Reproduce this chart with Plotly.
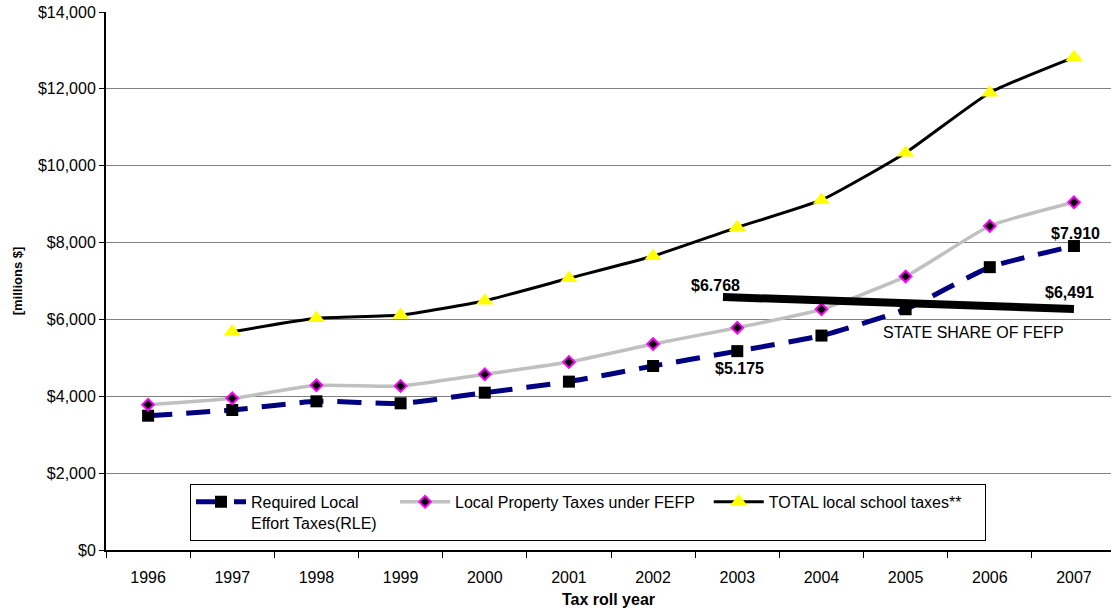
import plotly.graph_objects as go

# ---- data ----
years = [1996, 1997, 1998, 1999, 2000, 2001, 2002, 2003, 2004, 2005, 2006, 2007]
rle_values = [3495, 3643, 3869, 3817, 4094, 4381, 4788, 5175, 5580, 6265, 7360, 7910]
prop_values = [3782, 3947, 4285, 4268, 4572, 4892, 5360, 5785, 6263, 7120, 8431, 9048]
total_years = [1997, 1998, 1999, 2000, 2001, 2002, 2003, 2004, 2005, 2006, 2007]
total_values = [5681, 6029, 6115, 6488, 7070, 7650, 8397, 9108, 10339, 11900, 12820]
state_share_x = [2002.83, 2007.0]
state_share_y = [6584, 6271]
state_share_labels = ["$6.768", "$6,491"]
state_share_caption = "STATE SHARE OF FEFP"
caption_pos = (2005.81, 5647)
rle_label_years = [2003, 2007]
rle_label_texts = ["$5.175", "$7.910"]
y_ticks = [0, 2000, 4000, 6000, 8000, 10000, 12000, 14000]
y_tick_text = ["$0", "$2,000", "$4,000", "$6,000", "$8,000", "$10,000", "$12,000", "$14,000"]

FONT = "Liberation Sans, Arial, sans-serif"
NB = "\u00a0"

fig = go.Figure()

fig.add_trace(go.Scatter(
    x=years, y=rle_values, name="Required Local<br>Effort Taxes(RLE)" + NB * 3,
    mode="lines+markers",
    line=dict(color="#000080", width=5, dash="24px,14px", shape="spline", smoothing=0.5),
    marker=dict(symbol="square", size=12, color="black", line=dict(width=0)),
))
fig.add_trace(go.Scatter(
    x=years, y=prop_values, name="Local Property Taxes under FEFP" + NB * 2,
    mode="lines+markers",
    line=dict(color="#C0C0C0", width=3.5, shape="spline", smoothing=0.5),
    marker=dict(symbol="diamond", size=9, color="black", line=dict(width=2, color="#FF00FF")),
))
fig.add_trace(go.Scatter(
    x=total_years, y=total_values, name="TOTAL local school taxes**" + NB * 4,
    mode="lines+markers",
    line=dict(color="black", width=3, shape="spline", smoothing=0.5),
    marker=dict(symbol="triangle-up", size=15, color="#FFFF00", line=dict(width=0)),
))
fig.add_trace(go.Scatter(
    x=state_share_x, y=state_share_y, mode="lines", showlegend=False,
    line=dict(color="black", width=8),
))

annotations = []
shifts = [(-7, 11), (-4, 17)]
for xv, yv, t, (dx, dy) in zip(state_share_x, state_share_y, state_share_labels, shifts):
    annotations.append(dict(x=xv, y=yv, xref="x", yref="y", text="<b>%s</b>" % t,
                            showarrow=False, xshift=dx, yshift=dy,
                            font=dict(family=FONT, size=16, color="black")))
for yr, t in zip(rle_label_years, rle_label_texts):
    v = rle_values[years.index(yr)]
    dy = -17 if yr == 2003 else 13
    annotations.append(dict(x=yr, y=v, xref="x", yref="y", text="<b>%s</b>" % t,
                            showarrow=False, xshift=2, yshift=dy,
                            font=dict(family=FONT, size=16, color="black")))
annotations.append(dict(x=caption_pos[0], y=caption_pos[1], xref="x", yref="y",
                        text=state_share_caption, showarrow=False,
                        font=dict(family=FONT, size=16, color="black")))

fig.update_layout(
    width=1111, height=614,
    margin=dict(l=106, r=0, t=12, b=64),
    paper_bgcolor="white", plot_bgcolor="white",
    font=dict(family=FONT, size=16, color="black"),
    annotations=annotations,
    legend=dict(
        orientation="h", x=0.0836, y=0.123, xanchor="left", yanchor="top",
        bgcolor="white", bordercolor="black", borderwidth=1,
        font=dict(family=FONT, size=16, color="black"),
        valign="top", itemwidth=50, tracegroupgap=0,
    ),
    xaxis=dict(
        range=[1995.5, 2007.44], tickmode="array", tickvals=years,
        ticktext=[str(y) for y in years], ticks="", showgrid=False, zeroline=False,
        showline=True, linecolor="black", linewidth=2,
        ticklabelstandoff=12,
        tickfont=dict(family=FONT, size=16),
        minor=dict(ticks="outside", ticklen=6, tickcolor="black", tickwidth=1,
                   tick0=1995.5, dtick=1, showgrid=False),
        title=dict(text="<b>Tax roll year</b>", font=dict(family=FONT, size=16), standoff=9),
    ),
    yaxis=dict(
        range=[0, 14000], tickmode="array", tickvals=y_ticks, ticktext=y_tick_text,
        ticks="outside", ticklen=5, tickcolor="black", tickwidth=1,
        showline=True, linecolor="black", linewidth=2,
        showgrid=True, gridcolor="#808080", gridwidth=1, zeroline=False,
        tickfont=dict(family=FONT, size=16),
        title=dict(text="<b>[millions $]</b>", font=dict(family=FONT, size=13), standoff=12),
    ),
)

fig.write_html("out.html")
